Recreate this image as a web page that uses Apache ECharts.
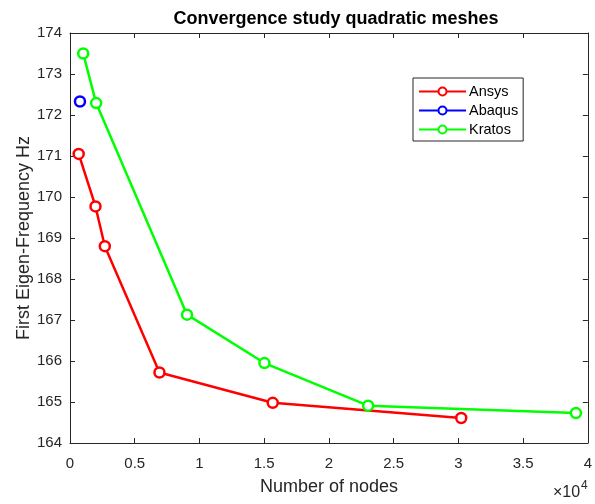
<!DOCTYPE html>
<html><head><meta charset="utf-8">
<script src="https://cdn.jsdelivr.net/npm/echarts@6/dist/echarts.min.js"></script>
<style>html,body{margin:0;padding:0;background:#fff}#c{width:595px;height:504px}</style>
</head><body><div id="c"></div>
<script>
const ansysX = [670, 1970, 2690, 6910, 15660, 30220];
const ansysY = [171.05, 169.77, 168.80, 165.72, 164.98, 164.61];
const abaqusX = [770];
const abaqusY = [172.33];
const kratosX = [1020, 2020, 9040, 15020, 23030, 39080];
const kratosY = [173.50, 172.29, 167.13, 165.95, 164.91, 164.73];
const xTicks = ['0','0.5','1','1.5','2','2.5','3','3.5','4'];

const zip = (xs, ys) => xs.map((x, i) => [x, ys[i]]);
const F = 'Liberation Sans, Arial, sans-serif';
const axisCol = '#262626';
const chart = echarts.init(document.getElementById('c'), null, {renderer: 'canvas'});
const mkSeries = (name, color, data) => ({
  name, type: 'line', data, color,
  symbol: 'circle', symbolSize: 10, showSymbol: true,
  lineStyle: {width: 2.5, color},
  itemStyle: {color: '#fff', borderColor: color, borderWidth: 2.5},
  emphasis: {disabled: true}, animation: false, z: 3
});
const baseX = {
  type: 'value', min: 0, max: 40000, interval: 5000,
  axisLine: {show: true, onZero: false, lineStyle: {color: axisCol, width: 1}},
  axisTick: {show: true, inside: true, length: 5, lineStyle: {color: axisCol}},
  splitLine: {show: false}
};
const baseY = {
  type: 'value', min: 164, max: 174, interval: 1,
  axisLine: {show: true, onZero: false, lineStyle: {color: axisCol, width: 1}},
  axisTick: {show: true, inside: true, length: 5, lineStyle: {color: axisCol}},
  splitLine: {show: false}
};
chart.setOption({
  backgroundColor: '#fff',
  animation: false,
  title: {
    text: 'Convergence study quadratic meshes', left: 331, top: 5, textAlign: 'center',
    textStyle: {fontFamily: F, fontSize: 18, fontWeight: 'bold', color: '#000'}
  },
  grid: {left: 70, right: 4, top: 33, bottom: 61},
  legend: {
    orient: 'vertical', left: 413, top: 78,
    data: ['Ansys', 'Abaqus', 'Kratos'],
    itemWidth: 47, itemHeight: 10, itemGap: 4,
    padding: [6, 5, 4, 5],
    borderColor: '#262626', borderWidth: 1, backgroundColor: '#fff',
    textStyle: {fontFamily: F, fontSize: 14.5, color: '#000', padding: [0, 0, 0, -2]}
  },
  xAxis: [
    Object.assign({}, baseX, {
      position: 'bottom',
      name: 'Number of nodes', nameLocation: 'middle', nameGap: 35, nameMoveOverlap: false,
      nameTextStyle: {fontFamily: F, fontSize: 18, color: axisCol},
      axisLabel: {fontFamily: F, fontSize: 15, color: axisCol, margin: 13,
        formatter: v => xTicks[Math.round(v / 5000)]}
    }),
    Object.assign({}, baseX, {position: 'top', axisLabel: {show: false}})
  ],
  yAxis: [
    Object.assign({}, baseY, {
      position: 'left',
      name: 'First Eigen-Frequency Hz', nameLocation: 'middle', nameGap: 37, nameMoveOverlap: false,
      nameTextStyle: {fontFamily: F, fontSize: 18, color: axisCol},
      axisLabel: {fontFamily: F, fontSize: 15, color: axisCol, margin: 8}
    }),
    Object.assign({}, baseY, {position: 'right', axisLabel: {show: false}})
  ],
  graphic: [
    {type: 'text', x: 553, y: 492.5,
     style: {text: '×10', fontFamily: F, fontSize: 16, fill: axisCol, textAlign: 'left', textVerticalAlign: 'middle', verticalAlign: 'middle'}},
    {type: 'text', x: 581, y: 485.5,
     style: {text: '4', fontFamily: F, fontSize: 12, fill: axisCol, textAlign: 'left', textVerticalAlign: 'middle', verticalAlign: 'middle'}}
  ],
  series: [
    mkSeries('Ansys', '#ff0000', zip(ansysX, ansysY)),
    mkSeries('Abaqus', '#0000ff', zip(abaqusX, abaqusY)),
    mkSeries('Kratos', '#00ff00', zip(kratosX, kratosY))
  ]
});
</script></body></html>
